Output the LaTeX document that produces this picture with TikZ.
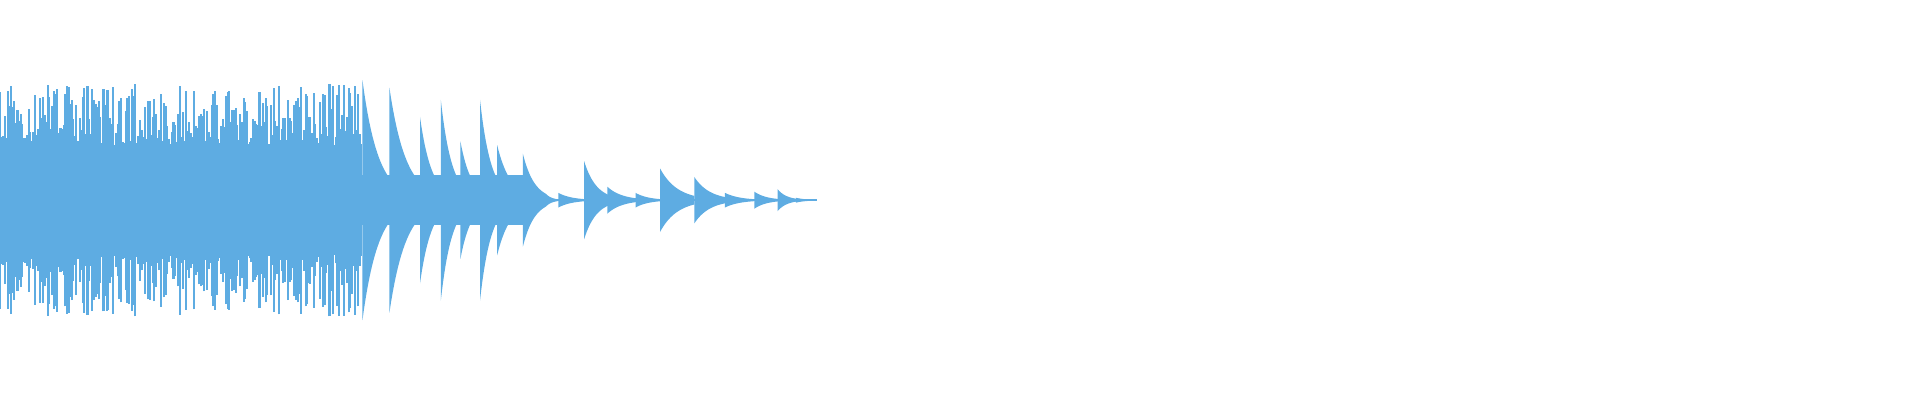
\documentclass[tikz,border=0pt]{standalone}
\definecolor{wavecol}{RGB}{94,172,226}
\tikzset{wave/.style={fill=wavecol}, spike/.style={draw=wavecol, line width=0.6pt}}
\begin{document}
\begin{tikzpicture}[x=0.012245cm, y=0.012245cm]
\useasboundingbox (0,0) rectangle (1568,327);
% dense part
\pgfmathsetseed{7}
\fill[wave] (0,128) rectangle (296,199);
\foreach \i in {0,1.3,...,296}{
  \pgfmathsetmacro{\a}{45+50*rnd}
  \draw[spike] (\i,163.5-\a) -- (\i,163.5+\a);
}
% core of the middle part and zero line
\fill[wave] (296,143) rectangle (428,184);
\draw[spike, line width=0.5pt] (440,163.5) -- (667,163.5);
% decaying bursts: start/end/amplitude
\foreach \s/\e/\a in {296/322/98, 318/345/92, 343/362/68, 360/378/82, 376/394/48,
  392/410/82, 406/428/45, 427/446/38, 446/456/5, 456/478/6, 477/497/32,
  496/520/11, 519/540/6, 539/567/26, 567/592/19, 592/616/6, 616/636/7,
  635/650/9, 650/667/2}{
  \fill[wave] (\s,163.5)
    -- plot[domain=0:1, samples=20] ({\s+\x*(\e-\s)},{163.5+\a*exp(-2*\x)})
    -- plot[domain=1:0, samples=20] ({\s+\x*(\e-\s)},{163.5-\a*exp(-2*\x)})
    -- cycle;
}
\end{tikzpicture}
\end{document}
